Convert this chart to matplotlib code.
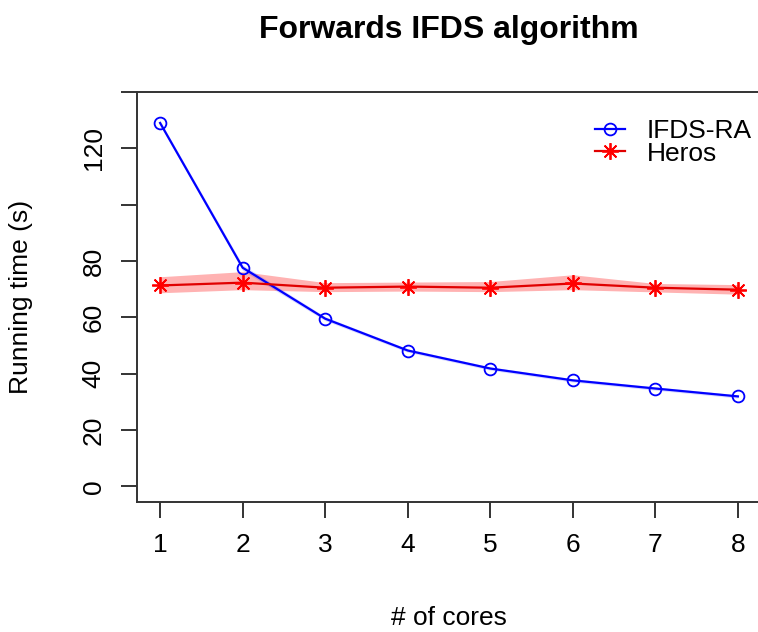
import matplotlib
matplotlib.use("Agg")
import matplotlib.pyplot as plt

plt.rcParams["font.family"] = ["Liberation Sans", "DejaVu Sans"]

# values
cores = [1, 2, 3, 4, 5, 6, 7, 8]
ifds_ra = [129.0, 77.6, 59.5, 48.2, 41.8, 37.6, 34.7, 31.9]
ifds_lo = [128.2, 76.6, 58.8, 47.6, 41.2, 37.0, 34.1, 31.3]
ifds_hi = [129.8, 78.6, 60.2, 48.8, 42.4, 38.2, 35.3, 32.5]
heros = [71.3, 72.3, 70.5, 70.9, 70.5, 72.0, 70.5, 69.8]
heros_lo = [68.7, 69.8, 69.1, 69.3, 69.1, 69.8, 69.0, 68.2]
heros_hi = [74.4, 76.2, 72.3, 72.5, 72.7, 75.1, 72.0, 71.6]
yticks = [0, 20, 40, 60, 80, 100, 120, 140]
ylabels = ["0", "20", "40", "60", "80", "", "120", ""]

W, H = 758, 632
fig = plt.figure(figsize=(W / 100, H / 100), dpi=100)

# axes box in pixels: left 137, right 761 (cropped), top 92, bottom 502
ax = fig.add_axes([137 / W, (H - 502) / H, (761 - 137) / W, (502 - 92) / H])
ax.set_xlim(0.72, 8.28)
ax.set_ylim(-5.6, 140)

ax.fill_between(cores, heros_lo, heros_hi, color="red", alpha=0.3, lw=0)
ax.fill_between(cores, ifds_lo, ifds_hi, color="blue", alpha=0.15, lw=0)

ax.plot(cores, ifds_ra, color="blue", lw=1.6, marker="o", ms=8.5,
        mfc="none", mec="blue", mew=1.3, label="IFDS-RA")
ax.plot(cores, heros, color="#e00000", lw=1.6, marker=(8, 2, 0), ms=12,
        mec="red", mew=1.3, label="Heros")

ax.set_xticks(cores)
ax.set_yticks(yticks)
ax.set_yticklabels(ylabels, rotation=90, va="center")

for s in ax.spines.values():
    s.set_linewidth(1.4)
    s.set_color("#333333")
ax.tick_params(axis="both", length=11.5, width=1.4, color="#333333",
               labelsize=19, pad=11)

ax.legend(loc="upper left", bbox_to_anchor=(595 / W, (H - 119) / H),
          bbox_transform=fig.transFigure, frameon=False, fontsize=19,
          handlelength=1.12, handletextpad=0.85, labelspacing=-0.05,
          borderpad=0, borderaxespad=0)

fig.text(449 / W, (H - 38) / H, "Forwards IFDS algorithm", ha="center",
         va="baseline", fontsize=23, fontweight="bold")
fig.text(449 / W, (H - 625) / H, "# of cores", ha="center",
         va="baseline", fontsize=19)
fig.text(33 / W, (H - 297) / H, "Running time (s)", ha="right",
         va="center", rotation=90, fontsize=19)

fig.savefig("out.png", dpi=100)
